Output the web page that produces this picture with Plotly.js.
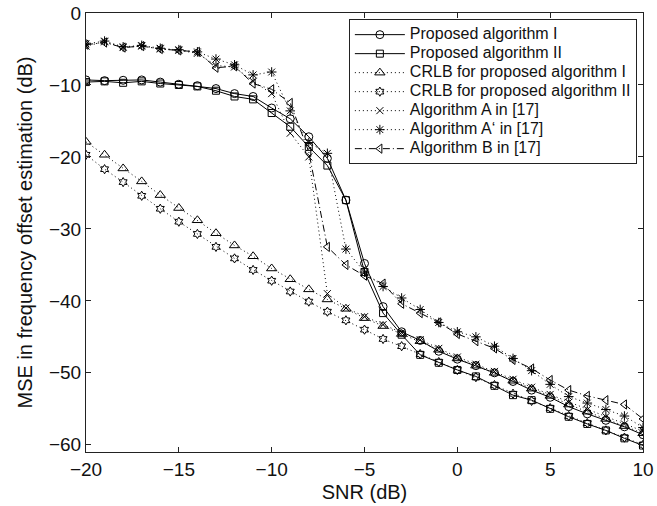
<!DOCTYPE html>
<html>
<head>
<meta charset="utf-8">
<script src="https://cdn.plot.ly/plotly-3.0.1.min.js"></script>
<style>html,body{margin:0;padding:0;background:#fff;}#chart{width:657px;height:506px;}</style>
</head>
<body>
<div id="chart"></div>
<script>
// SNR (dB)
const snr = [-20,-19,-18,-17,-16,-15,-14,-13,-12,-11,-10,-9,-8,-7,-6,-5,-4,-3,-2,-1,0,1,2,3,4,5,6,7,8,9,10];

const proposedI = [-9.3,-9.4,-9.35,-9.3,-9.6,-9.9,-10.1,-10.5,-11.2,-11.6,-13.2,-14.7,-17.2,-20.2,-26.0,-34.8,-40.8,-44.3,-45.5,-47.0,-48.1,-49.0,-50.0,-51.2,-52.4,-53.4,-54.7,-55.7,-56.6,-57.5,-58.6];
const proposedII = [-9.6,-9.5,-9.7,-9.5,-9.8,-10.0,-10.2,-10.8,-11.6,-12.0,-13.9,-15.8,-18.6,-21.2,-26.0,-36.0,-41.7,-44.7,-47.5,-48.6,-49.6,-50.5,-51.8,-53.1,-53.8,-55.0,-56.1,-57.1,-58.0,-59.1,-60.1];
const crlbI = [-17.9,-19.7,-21.6,-23.4,-25.3,-27.1,-28.8,-30.6,-32.3,-33.8,-35.5,-37.0,-38.4,-39.8,-41.1,-42.4,-43.5,-44.6,-45.6,-46.8,-48.0,-49.0,-50.0,-51.1,-52.2,-53.2,-54.4,-55.4,-56.4,-57.4,-58.4];
const crlbII = [-19.7,-21.7,-23.5,-25.4,-27.2,-29.0,-30.7,-32.5,-34.1,-35.7,-37.2,-38.7,-40.1,-41.5,-42.7,-44.0,-45.3,-46.3,-47.4,-48.5,-49.6,-50.6,-51.7,-52.9,-53.9,-54.9,-56.0,-57.0,-58.0,-59.0,-60.0];
const algA = [-4.6,-4.0,-4.8,-4.6,-5.0,-5.2,-5.6,-7.3,-7.5,-9.5,-11.2,-16.7,-20.0,-39.0,-41.0,-42.2,-43.3,-44.4,-45.4,-46.6,-47.8,-48.8,-49.8,-50.9,-52.0,-53.0,-54.1,-55.1,-56.1,-57.1,-58.1];
const algAp = [-4.3,-3.9,-4.7,-4.5,-4.9,-5.1,-5.4,-6.4,-7.2,-8.6,-8.2,-13.6,-18.0,-19.5,-32.8,-36.0,-38.0,-39.6,-41.2,-43.0,-44.3,-45.0,-46.3,-48.0,-49.7,-51.6,-53.3,-54.2,-55.1,-56.0,-57.6];
const algB = [-4.4,-4.1,-4.8,-4.6,-5.0,-5.2,-5.4,-7.6,-7.4,-9.8,-10.6,-12.5,-19.3,-32.5,-35.0,-36.5,-37.6,-40.4,-41.7,-43.0,-44.6,-45.6,-46.6,-48.2,-49.4,-51.0,-52.4,-53.2,-53.8,-54.4,-56.4];

const names = ["Proposed algorithm I","Proposed algorithm II","CRLB for proposed algorithm I","CRLB for proposed algorithm II","Algorithm A in [17]","Algorithm A\u2018 in [17]","Algorithm B in [17]"];

const DOT = "1px,3px";
function tr(y, name, symbol, dash, size) {
  return {
    x: snr, y: y, name: '<span style="font-size:16px">' + name + '</span>',
    type: "scatter", mode: "lines+markers",
    line: {color: "#000", width: 1, dash: dash},
    marker: {symbol: symbol, size: size || 8, color: "#000", line: {color: "#000", width: 1}}
  };
}
const data = [
  tr(proposedI, names[0], "circle-open", "solid"),
  tr(proposedII, names[1], "square-open", "solid", 7),
  tr(crlbI, names[2], "triangle-up-open", DOT, 9),
  tr(crlbII, names[3], "hexagram-open", DOT, 7),
  tr(algA, names[4], "x-thin-open", DOT, 7),
  tr(algAp, names[5], "asterisk-open", DOT, 8),
  tr(algB, names[6], "triangle-left-open", "7px,3px,1px,3px", 8)
];

const font = "Liberation Sans, Arial, Helvetica, sans-serif";
const axisCommon = {
  showline: true, linecolor: "#222", linewidth: 1, mirror: "ticks",
  ticks: "inside", ticklen: 5, tickcolor: "#222", tickwidth: 1,
  showgrid: false, zeroline: false,
  tickfont: {family: font, size: 19, color: "#111"}
};
const layout = {
  width: 657, height: 506,
  margin: {l: 86, r: 14, t: 13, b: 54},
  paper_bgcolor: "#fff", plot_bgcolor: "#fff",
  font: {family: font, color: "#111"},
  showlegend: true,
  legend: {
    x: 0.989, y: 0.986, xanchor: "right", yanchor: "top",
    bgcolor: "#fff", bordercolor: "#222", borderwidth: 1,
    font: {family: font, size: 12.3, color: "#111"},
    itemwidth: 50, tracegroupgap: 0
  },
  xaxis: Object.assign({}, axisCommon, {
    range: [-20, 10], dtick: 5, tick0: 0,
    title: {text: "SNR (dB)", font: {family: font, size: 20, color: "#111"}, standoff: 6}
  }),
  yaxis: Object.assign({}, axisCommon, {
    range: [-61, 0], dtick: 10, tick0: 0,
    title: {text: "MSE in frequency offset estimation (dB)", font: {family: font, size: 20, color: "#111"}, standoff: 10}
  })
};
Plotly.newPlot("chart", data, layout, {displayModeBar: false, staticPlot: true});
</script>
</body>
</html>
